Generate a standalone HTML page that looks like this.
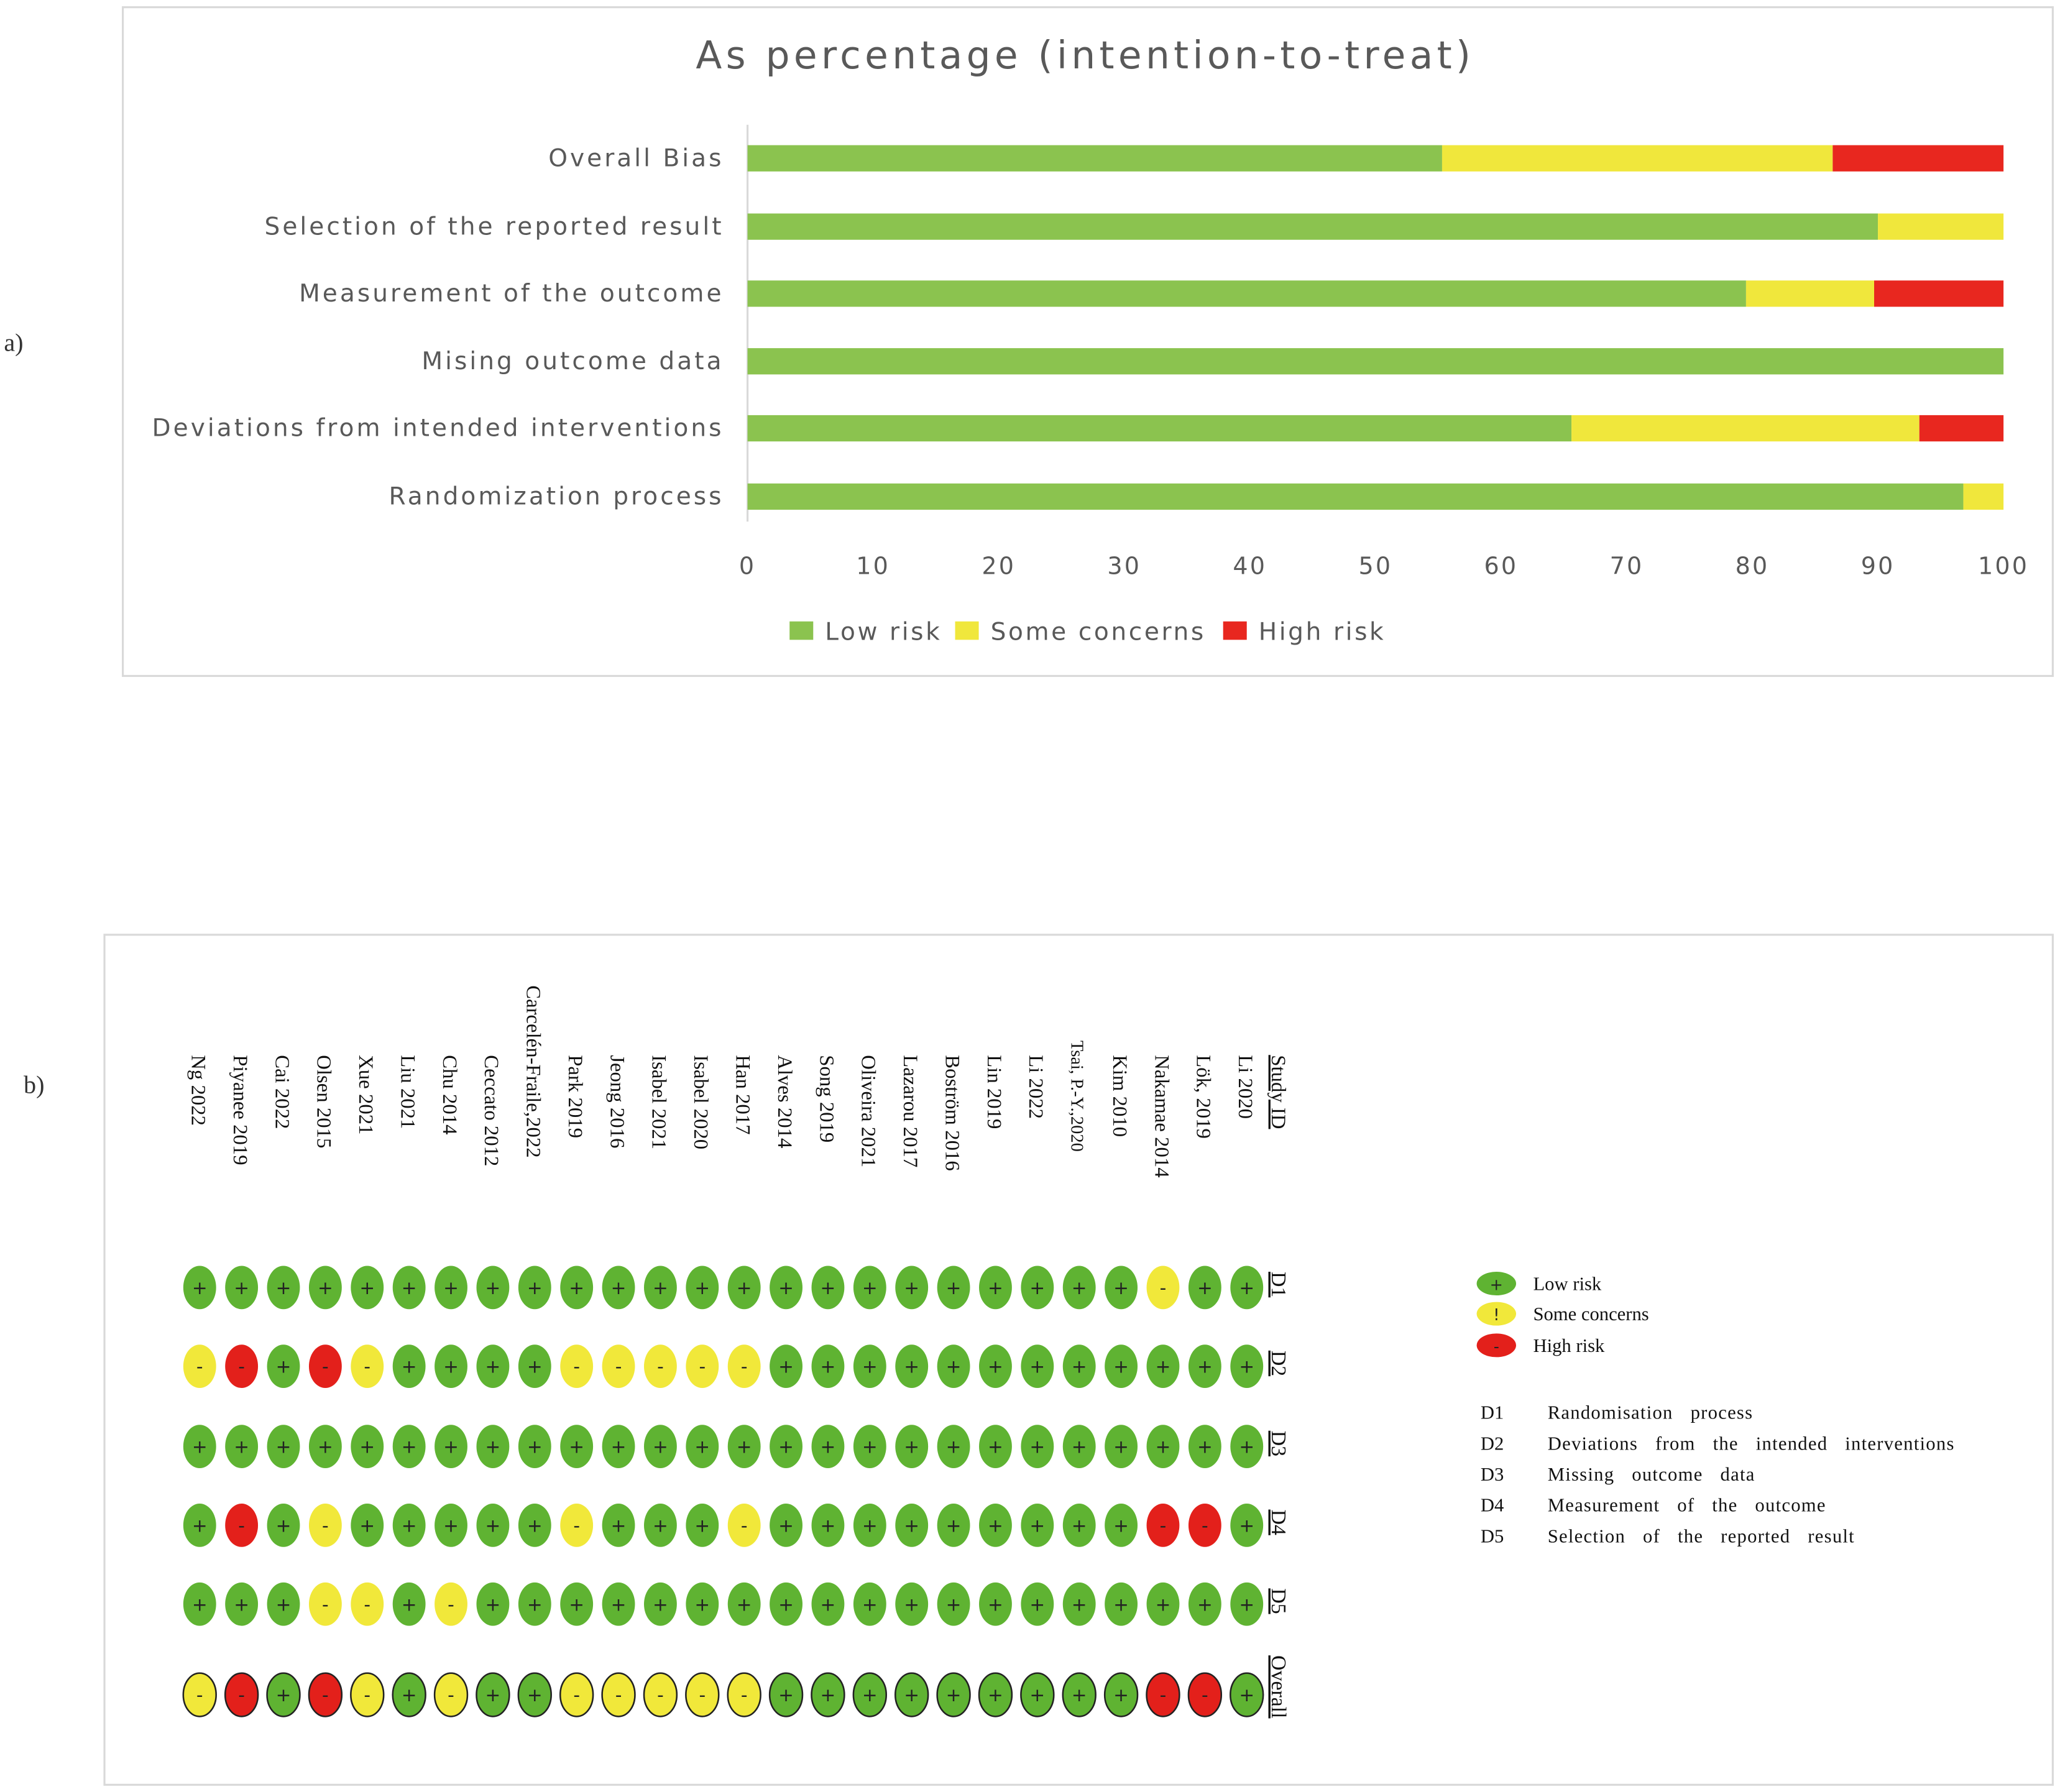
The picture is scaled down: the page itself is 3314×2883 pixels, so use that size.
<!DOCTYPE html>
<html><head><meta charset="utf-8"><style>
html,body{margin:0;padding:0;background:#fff;}
svg{display:block;}
</style></head><body>
<svg id="root" width="3314" height="2883" viewBox="0 0 1568 1364" preserveAspectRatio="none" xmlns="http://www.w3.org/2000/svg">
<rect width="1568" height="1364" fill="#fff"/>
<text x="3" y="267" font-family="Liberation Serif, serif" font-size="19" fill="#333">a)</text>
<text x="18" y="832" font-family="Liberation Serif, serif" font-size="19" fill="#333">b)</text>
<rect x="93.5" y="5.5" width="1469" height="509" fill="#fff" stroke="#d9d9d9" stroke-width="1.5"/>
<text x="826" y="52" text-anchor="middle" font-family="DejaVu Sans, Liberation Sans, sans-serif" font-size="29" letter-spacing="3" fill="#595959">As percentage (intention-to-treat)</text>
<g id="chartA"></g>
<rect x="79.5" y="711.5" width="1483" height="647" fill="#fff" stroke="#d9d9d9" stroke-width="1.5"/>
<g id="chartB"></g>
<g id="legendB"></g>
</svg>
<script>
const domains = ["Overall Bias","Selection of the reported result","Measurement of the outcome","Mising outcome data","Deviations from intended interventions","Randomization process"];
const lowRisk = [55.3, 90.0, 79.5, 100, 65.6, 96.8];
const someConcerns = [31.1, 10.0, 10.2, 0, 27.7, 3.2];
const highRisk = [13.6, 0, 10.3, 0, 6.7, 0];
const xTicks = [0,10,20,30,40,50,60,70,80,90,100];

const studies = ["Ng 2022","Piyanee 2019","Cai 2022","Olsen 2015","Xue 2021","Liu 2021","Chu 2014","Ceccato 2012","Carcelén-Fraile,2022","Park 2019","Jeong 2016","Isabel 2021","Isabel 2020","Han 2017","Alves 2014","Song 2019","Oliveira 2021","Lazarou 2017","Boström 2016","Lin 2019","Li 2022","Tsai, P.-Y.,2020","Kim 2010","Nakamae 2014","Lök, 2019","Li 2020"];
const rowLabels = ["D1","D2","D3","D4","D5","Overall"];
const judgD1 = "LLLLLLLLLLLLLLLLLLLLLLLSLL";
const judgD2 = "SHLHSLLLLSSSSSLLLLLLLLLLLL";
const judgD3 = "LLLLLLLLLLLLLLLLLLLLLLLLLL";
const judgD4 = "LHLSLLLLLSLLLSLLLLLLLLLHHL";
const judgD5 = "LLLSSLSLLLLLLLLLLLLLLLLLLL";
const judgOverall = "SHLHSLSLLSSSSSLLLLLLLLLHHL";

const NS="http://www.w3.org/2000/svg";
function mk(tag, attrs, parent){const e=document.createElementNS(NS,tag);for(const k in attrs)e.setAttribute(k,attrs[k]);parent.appendChild(e);return e;}

// Chart A
const A=document.getElementById('chartA');
const x0=569,x1=1525;
const xs=v=>x0+(x1-x0)*v/100;
const rowY=[120.5,172.5,223.5,275,326,378];
const barH=20;
const sans="DejaVu Sans, Liberation Sans, sans-serif";
const ax=mk('line',{x1:x0,y1:95,x2:x0,y2:397,stroke:'#d9d9d9','stroke-width':1.5},A);


domains.forEach((d,i)=>{
  const y=rowY[i];
  const t=mk('text',{x:551,y:y+6,'text-anchor':'end','font-family':sans,'font-size':18.5,'letter-spacing':1.9,fill:'#595959'},A);
  t.textContent=d;
  
  
  let s=0;
  [[lowRisk[i],'#8bc34f','low'],[someConcerns[i],'#f0e73c','some'],[highRisk[i],'#e8271f','high']].forEach(([v,c,n])=>{
    if(v>0){
      const r=mk('rect',{x:xs(s),y:y-barH/2,width:xs(s+v)-xs(s),height:barH,fill:c},A);
      
      
    }
    s+=v;
  });
});
xTicks.forEach(v=>{
  const t=mk('text',{x:xs(v),y:437,'text-anchor':'middle','font-family':sans,'font-size':18,'letter-spacing':1.5,fill:'#595959'},A);
  t.textContent=v;
  
  
});
[['#8bc34f','Low risk',601],['#f0e73c','Some concerns',727],['#e8271f','High risk',931]].forEach(([c,l,x])=>{
  const g=mk('g',{},A);
  
  
  mk('rect',{x:x,y:473,width:18,height:14,fill:c},g);
  const t=mk('text',{x:x+27,y:487,'font-family':sans,'font-size':18.5,'letter-spacing':1.7,fill:'#595959'},g);
  t.textContent=l;
});

// Chart B
const B=document.getElementById('chartB');
const serif="Liberation Serif, serif";
const cx0=152,cstep=(949-152)/25;
const ry=[980,1040,1101,1161,1221,1290];
const grid=[judgD1,judgD2,judgD3,judgD4,judgD5,judgOverall];
const col={L:'#5fb332',S:'#f1e83a',H:'#e3201b'};
const sym={L:'+',S:'-',H:'-'};
studies.forEach((s,j)=>{
  const x=cx0+cstep*j;
  const ytop = s.startsWith('Carcel') ? 750 : (s.startsWith('Tsai') ? 792 : 803);
  const fs = s.startsWith('Tsai') ? 13.5 : 15.5;
  const t=mk('text',{x:0,y:0,transform:`translate(${x-6},${ytop}) rotate(90)`,'font-family':serif,'font-size':fs,fill:'#111'},B);
  t.textContent=s;
  
  
});
const sid=mk('text',{x:0,y:0,transform:`translate(968,803) rotate(90)`,'font-family':serif,'font-size':15.5,fill:'#111','text-decoration':'underline'},B);
sid.textContent='Study ID';


rowLabels.forEach((r,i)=>{
  const t=mk('text',{x:0,y:0,transform:`translate(968,${ry[i]-(r==='Overall'?30:12)}) rotate(90)`,'font-family':serif,'font-size':16,fill:'#111','text-decoration':'underline'},B);
  t.textContent=r;
  
  
  grid[i].split('').forEach((v,j)=>{
    const x=cx0+cstep*j;
    const e=mk('ellipse',{cx:x,cy:ry[i],rx:12.5,ry:16.5,fill:col[v],stroke:i===5?'#222':'none','stroke-width':1.2},B);
    
    
    const t2=mk('text',{x:x,y:ry[i]+5,'text-anchor':'middle','font-family':sans,'font-size':14,fill:'#222'},B);
    t2.textContent=sym[v];
  });
});
// Legend B
const L=document.getElementById('legendB');
[['L','+','Low risk',977],['S','!','Some concerns',1000],['H','-','High risk',1024]].forEach(([k,s,l,y])=>{
  const g=mk('g',{},L);
  
  
  mk('ellipse',{cx:1139,cy:y,rx:15,ry:9,fill:col[k]},g);
  const a=mk('text',{x:1139,y:y+5,'text-anchor':'middle','font-family':sans,'font-size':12,fill:'#222'},g);a.textContent=s;
  const t=mk('text',{x:1167,y:y+5,'font-family':serif,'font-size':14.5,fill:'#111'},g);t.textContent=l;
});
[['D1','Randomisation process'],['D2','Deviations from the intended interventions'],['D3','Missing outcome data'],['D4','Measurement of the outcome'],['D5','Selection of the reported result']].forEach(([d,l],i)=>{
  const y=1080+i*23.5;
  const g=mk('g',{},L);
  
  
  const a=mk('text',{x:1127,y:y,'font-family':serif,'font-size':14.5,fill:'#111'},g);a.textContent=d;
  const t=mk('text',{x:1178,y:y,'font-family':serif,'font-size':14.5,fill:'#111','word-spacing':9,'letter-spacing':0.6},g);t.textContent=l;
});
</script>
</body></html>
